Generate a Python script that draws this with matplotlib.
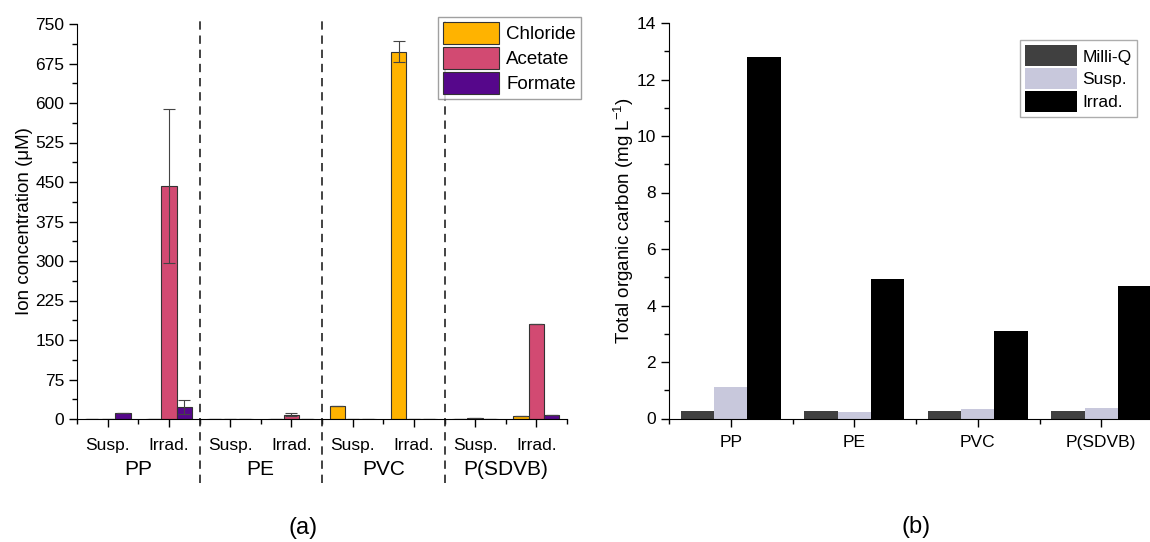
import matplotlib
matplotlib.use("Agg")
import matplotlib.pyplot as plt
import numpy as np
from matplotlib.ticker import MultipleLocator, FixedLocator
import matplotlib.transforms as mtrans

plt.rcParams['font.family'] = ['Liberation Sans', 'DejaVu Sans']
plt.rcParams['mathtext.fontset'] = 'custom'
plt.rcParams['mathtext.rm'] = 'Liberation Sans'
plt.rcParams['mathtext.it'] = 'Liberation Sans:italic'
plt.rcParams['mathtext.bf'] = 'Liberation Sans:bold'

# ---- Panel (a) data ----
conditions = ["Susp.", "Irrad.", "Susp.", "Irrad.", "Susp.", "Irrad.", "Susp.", "Irrad."]
polymers = ["PP", "PE", "PVC", "P(SDVB)"]
chloride = [0, 0, 0, 0, 25, 697, 0, 6]
chloride_err = [0, 0, 0, 0, 0, 20, 0, 0]
acetate = [0, 443, 0, 8, 0, 0, 2, 180]
acetate_err = [0, 146, 0, 3, 0, 0, 0, 0]
formate = [12, 23, 0, 0, 0, 0, 0, 8]
formate_err = [0, 14, 0, 0, 0, 0, 0, 0]

# ---- Panel (b) data ----
toc_categories = ["PP", "PE", "PVC", "P(SDVB)"]
toc_milliq = [0.28, 0.28, 0.28, 0.28]
toc_susp = [1.13, 0.22, 0.32, 0.36]
toc_irrad = [12.8, 4.95, 3.1, 4.7]

fig = plt.figure(figsize=(11.5, 5.42), dpi=100)

# ---------------- Panel (a) ----------------
axa = fig.add_axes([77/1150, (542-419)/542, 490/1150, 395/542])
x = np.arange(1, len(conditions) + 1)
w = 0.25
ek = dict(ecolor='#444444', elinewidth=0.8, capsize=4, capthick=0.8)
axa.bar(x - w, chloride, w, yerr=chloride_err, color='#FFB300', edgecolor='#333333', linewidth=0.8, label='Chloride', error_kw=ek)
axa.bar(x, acetate, w, yerr=acetate_err, color='#D24A72', edgecolor='#333333', linewidth=0.8, label='Acetate', error_kw=ek)
axa.bar(x + w, formate, w, yerr=formate_err, color='#56078B', edgecolor='#333333', linewidth=0.8, label='Formate', error_kw=ek)

axa.set_xlim(0.5, 8.5)
axa.set_ylim(0, 750)
axa.yaxis.set_major_locator(MultipleLocator(75))
axa.yaxis.set_minor_locator(MultipleLocator(37.5))
axa.xaxis.set_major_locator(FixedLocator(list(x)))
axa.xaxis.set_minor_locator(FixedLocator(list(np.arange(0.5, 8.6, 0.5))))
axa.set_xticklabels(conditions)
for s in ['top', 'right']:
    axa.spines[s].set_visible(False)
axa.tick_params(axis='both', which='major', direction='out', length=6, width=1.0, labelsize=12.5, pad=3)
axa.tick_params(axis='both', which='minor', direction='out', length=3.5, width=1.0)
axa.tick_params(axis='x', which='major', pad=8)
axa.set_ylabel("Ion concentration (\u03bcM)", fontsize=13.5, labelpad=2)

trans = mtrans.blended_transform_factory(axa.transData, axa.transAxes)
for i, p in enumerate(polymers):
    axa.text(1.5 + 2 * i, -0.128, p, transform=trans, ha='center', va='center', fontsize=15)
for xd in [2.5, 4.5, 6.5]:
    axa.plot([xd, xd], [-0.163, 1.01], transform=trans, color='#222222', lw=1.2,
             linestyle=(0, (5, 3.5)), clip_on=False)
axa.text(4.19, -0.275, "(a)", transform=trans, ha='center', va='center', fontsize=17)

leg = axa.legend(loc='upper right', bbox_to_anchor=(1.028, 1.018), fontsize=13.5,
                 frameon=True, fancybox=False, edgecolor='#888888', handlelength=3.0,
                 handleheight=1.45, handletextpad=0.4, borderpad=0.25, labelspacing=0.15,
                 borderaxespad=0.0)
leg.get_frame().set_linewidth(1.0)

# ---------------- Panel (b) ----------------
axb = fig.add_axes([669/1150, (542-418.5)/542, 494/1150, 395.5/542])
xb = np.arange(1, len(toc_categories) + 1)
wb = 0.27
axb.bar(xb - wb, toc_milliq, wb, color='#404040', label='Milli-Q')
axb.bar(xb, toc_susp, wb, color='#C8C8DC', label='Susp.')
axb.bar(xb + wb, toc_irrad, wb, color='#000000', label='Irrad.')
axb.set_xlim(0.5, 4.5)
axb.set_ylim(0, 14)
axb.yaxis.set_major_locator(MultipleLocator(2))
axb.yaxis.set_minor_locator(MultipleLocator(1))
axb.xaxis.set_major_locator(FixedLocator(list(xb)))
axb.xaxis.set_minor_locator(FixedLocator(list(np.arange(0.5, 4.6, 1.0))))
axb.set_xticklabels(toc_categories)
for s in ['top', 'right']:
    axb.spines[s].set_visible(False)
axb.tick_params(axis='both', which='major', direction='out', length=6, width=1.0, labelsize=12.5)
axb.tick_params(axis='both', which='minor', direction='out', length=3.5, width=1.0)
axb.tick_params(axis='x', which='major', pad=6)
axb.set_ylabel("Total organic carbon (mg L$^{\\mathregular{-1}}$)", fontsize=13.5, labelpad=0)
axb.text(0.5, -0.275, "(b)", transform=axb.transAxes, ha='center', va='center', fontsize=17)

legb = axb.legend(loc='upper left', bbox_to_anchor=(351/494, 1 - 17/395.5), fontsize=12.5,
                  frameon=True, fancybox=False, edgecolor='#999999', handlelength=3.0,
                  handleheight=1.5, handletextpad=0.3, borderpad=0.3, labelspacing=0.1,
                  borderaxespad=0.0)
legb.get_frame().set_linewidth(1.0)

fig.savefig("out.png", dpi=100)
